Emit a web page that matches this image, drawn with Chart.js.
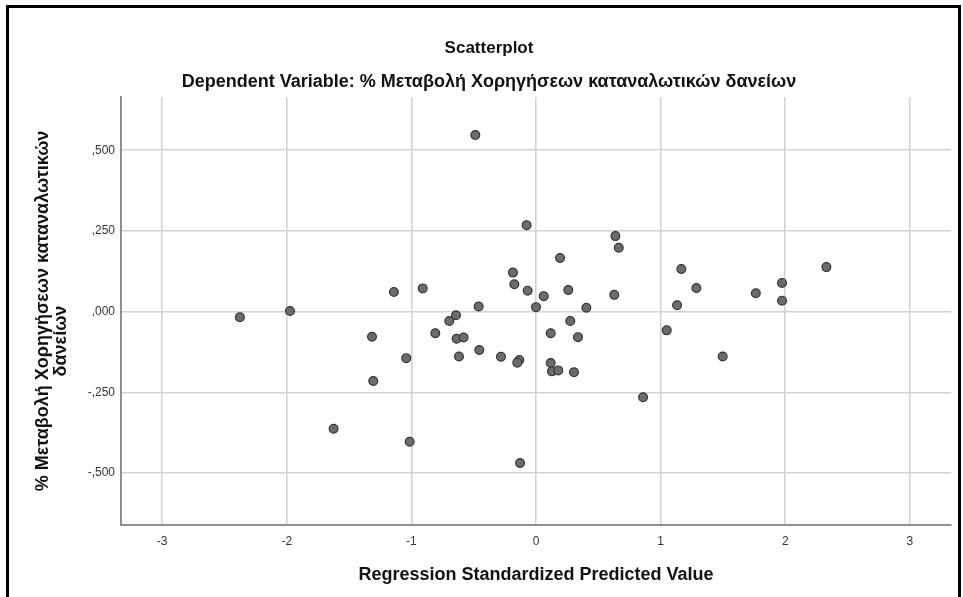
<!DOCTYPE html>
<html lang="el">
<head>
<meta charset="utf-8">
<title>Scatterplot</title>
<script src="https://cdn.jsdelivr.net/npm/chart.js@4/dist/chart.umd.min.js"></script>
<style>
  html, body { margin: 0; padding: 0; background: #fff; }
  #wrap { position: relative; width: 963px; height: 597px; overflow: hidden; }
  #frame {
    position: absolute; left: 6px; top: 5px; width: 949px; height: 600px;
    border: 3px solid #000; border-bottom: none; pointer-events: none;
  }
</style>
</head>
<body>
<div id="wrap">
  <canvas id="scatterChart" width="963" height="597"></canvas>
  <div id="frame"></div>
</div>
<script>
// ========== DATA ==========
const predicted = [
  -2.376, -1.974, -1.316, -1.306, -1.624, -1.14, -0.487, -0.075, 0.637, 0.664,
  0.193, -0.185, -0.174, -0.067, 0.259, 0.062, 0.628, -0.909, -0.46, 0.0,
  0.404, -0.642, -0.696, -0.808, -0.637, -0.581, 0.275, 0.118, 0.337, 1.049,
  -1.041, -0.618, -0.455, -0.281, -0.134, -0.15, 0.118, 0.128, 0.179, 0.305,
  0.859, -1.014, -0.128, 1.166, 1.287, 1.764, 1.974, 2.33, 1.974, 1.132, 1.498
];
const change = [
  -0.017, 0.002, -0.078, -0.215, -0.363, 0.061, 0.547, 0.268, 0.234, 0.198,
  0.166, 0.121, 0.085, 0.065, 0.067, 0.048, 0.052, 0.072, 0.016, 0.014,
  0.012, -0.011, -0.029, -0.067, -0.084, -0.080, -0.029, -0.067, -0.079, -0.058,
  -0.144, -0.139, -0.119, -0.140, -0.150, -0.158, -0.159, -0.185, -0.182, -0.188,
  -0.265, -0.403, -0.469, 0.132, 0.073, 0.057, 0.089, 0.138, 0.034, 0.020, -0.139
];
const xTicks = [-3, -2, -1, 0, 1, 2, 3];
const yTicks = [-0.5, -0.25, 0, 0.25, 0.5];

const titleText = "Scatterplot";
const subtitleText = "Dependent Variable: % Μεταβολή Χορηγήσεων καταναλωτικών δανείων";
const xTitle = "Regression Standardized Predicted Value";
// second line is padded so it sits a bit lower, like the SPSS output
const yTitle = ["% Μεταβολή Χορηγήσεων καταναλωτικών", "δανείων" + "\u00a0".repeat(12)];

// ======== HELPERS ========
// SPSS style numbers: ,500  -,250
function spssNumber(v) {
  return v.toFixed(3).replace("0.", ",");
}

const points = predicted.map((x, i) => ({ x: x, y: change[i] }));
const FONT = "'Liberation Sans', Arial, sans-serif";
const gridColor = "#d2d2d2";
const axisColor = "#8e8e8e";

// ======== CHART ========
new Chart(document.getElementById("scatterChart"), {
  type: "scatter",
  data: {
    datasets: [
      {
        data: points,
        pointRadius: 4.4,
        pointBackgroundColor: "#6c6c6c",
        pointBorderColor: "#343434",
        pointBorderWidth: 1.2,
      },
    ],
  },
  options: {
    responsive: false,
    animation: false,
    layout: { padding: { left: 27, right: 12, top: 0, bottom: 0 } },
    plugins: {
      legend: { display: false },
      tooltip: { enabled: false },
      title: {
        display: true,
        text: titleText,
        color: "#111",
        font: { family: FONT, size: 17, weight: "bold", lineHeight: 1.2 },
        padding: { top: 38, bottom: 0 },
      },
      subtitle: {
        display: true,
        text: subtitleText,
        color: "#111",
        font: { family: FONT, size: 18, weight: "bold", lineHeight: 1.2 },
        padding: { top: 13, bottom: 4 },
      },
    },
    scales: {
      x: {
        type: "linear",
        min: -3.33,
        max: 3.33,
        afterBuildTicks: (s) => { s.ticks = xTicks.map((v) => ({ value: v })); },
        afterFit: (s) => { s.height = 72; },
        ticks: {
          color: "#333",
          padding: 9,
          font: { family: FONT, size: 12 },
        },
        grid: { color: gridColor, lineWidth: 1.6, drawTicks: false },
        border: { color: axisColor, width: 2 },
        title: {
          display: true,
          text: xTitle,
          color: "#111",
          font: { family: FONT, size: 18, weight: "bold", lineHeight: 1.2 },
          padding: { top: 6, bottom: 11 },
        },
      },
      y: {
        type: "linear",
        min: -0.661,
        max: 0.665,
        afterBuildTicks: (s) => { s.ticks = yTicks.map((v) => ({ value: v })); },
        afterFit: (s) => { s.width = 94; },
        ticks: {
          color: "#333",
          padding: 6,
          font: { family: FONT, size: 12 },
          callback: (v) => spssNumber(v),
        },
        grid: { color: gridColor, lineWidth: 1.6, drawTicks: false },
        border: { color: axisColor, width: 2 },
        title: {
          display: true,
          text: yTitle,
          color: "#111",
          font: { family: FONT, size: 18, weight: "bold", lineHeight: 1.0 },
          padding: { top: 7, bottom: 0 },
        },
      },
    },
  },
});
</script>
</body>
</html>
